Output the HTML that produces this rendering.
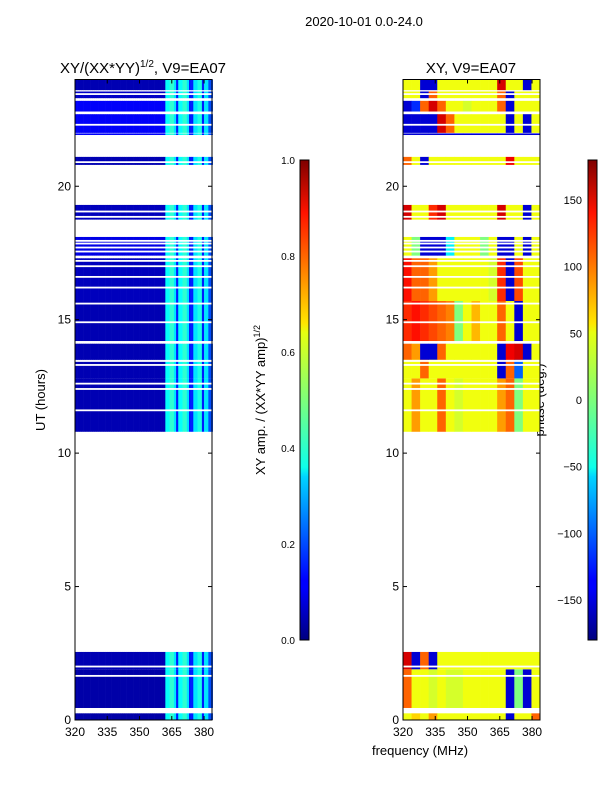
<!DOCTYPE html>
<html><head><meta charset="utf-8"><style>
body{margin:0;background:#fff;}
svg text{font-family:"Liberation Sans",sans-serif;fill:#000;}
</style></head><body>
<svg id="fig" width="600" height="800" xmlns="http://www.w3.org/2000/svg">
<defs>
<linearGradient id="jet" x1="0" y1="1" x2="0" y2="0">
<stop offset="0" stop-color="#00007f"/><stop offset="0.11" stop-color="#0000ff"/><stop offset="0.125" stop-color="#0000ff"/><stop offset="0.34" stop-color="#00d4ff"/><stop offset="0.36" stop-color="#0dffea"/><stop offset="0.5" stop-color="#7dff7a"/><stop offset="0.64" stop-color="#e6ff10"/><stop offset="0.66" stop-color="#ffe600"/><stop offset="0.89" stop-color="#ff1300"/><stop offset="1" stop-color="#7f0000"/>
</linearGradient>
</defs>
<text x="364" y="26" font-size="13" text-anchor="middle">2020-10-01 0.0-24.0</text>
<text x="143" y="73" font-size="15" text-anchor="middle">XY/(XX*YY)<tspan font-size="10" dy="-6">1/2</tspan><tspan dy="6">, V9=EA07</tspan></text>
<text x="471" y="73" font-size="15" text-anchor="middle">XY, V9=EA07</text>
<text x="420" y="755" font-size="13" text-anchor="middle">frequency (MHz)</text>
<text transform="translate(45,400) rotate(-90)" font-size="13" text-anchor="middle">UT (hours)</text>
<text transform="translate(265,400) rotate(-90)" font-size="13" text-anchor="middle">XY amp. / (XX*YY amp)<tspan font-size="9" dy="-5">1/2</tspan></text>
<text transform="translate(544,400) rotate(-90)" font-size="13" text-anchor="middle">phase (deg.)</text>
<g id="left"></g>
<g id="right"></g>
<g id="axes"></g>
<rect x="300" y="160" width="9" height="480" fill="url(#jet)" stroke="#000" stroke-width="1"/>
<rect x="588" y="160" width="9" height="480" fill="url(#jet)" stroke="#000" stroke-width="1"/>
</svg>
<script>
const freqTicks=[320,335,350,365,380];
const hourTicks=[0,5,10,15,20];
const ampTicks=[0.0,0.2,0.4,0.6,0.8,1.0];
const phaseTicks=[-150,-100,-50,0,50,100,150];
const segStart=[0.0,0.45,1.9,10.8,12.8,13.5,14.2,15.7,17.4,18.75,20.8,21.92,22.0,22.8,23.3,23.6];
const segEnd=[0.25,1.9,2.55,12.8,13.5,14.1,15.7,17.3,18.1,19.3,21.1,21.98,22.7,23.2,23.55,24.0];
const segAmpBg=[0.04,0.04,0.05,0.05,0.05,0.05,0.05,0.06,0.1,0.06,0.05,0.12,0.12,0.12,0.07,0.05];
const segPhase=[
[40,60,40,80,40,40,40,40,40,40,40,40,-150,40,40,100],
[100,40,40,30,40,30,30,40,40,40,40,40,-150,0,-150,40],
[150,-150,100,-150,40,40,40,40,40,40,40,40,40,40,40,40],
[40,80,40,40,100,40,30,40,40,40,40,80,100,0,40,40],
[40,40,100,40,40,40,40,40,40,40,40,-150,100,-100,40,40],
[100,80,-150,-150,100,40,40,40,40,40,40,-150,140,150,-150,40],
[120,130,120,110,100,90,0,40,70,40,40,100,40,-150,40,40],
[130,100,100,80,40,40,40,40,40,40,30,120,-150,110,40,40],
[40,0,-150,-150,-150,-50,40,40,40,0,40,-150,-150,40,-150,40],
[150,40,40,120,150,40,40,40,40,40,40,150,40,40,-150,40],
[100,40,-150,40,40,40,40,40,40,40,40,40,140,40,40,40],
[-150,-150,-150,-150,-150,-150,-150,-150,-150,-150,-150,-150,-150,-150,-150,-150],
[-150,-150,-150,-150,150,100,40,40,40,40,40,40,-150,40,-150,40],
[-150,-120,100,150,100,40,40,30,40,40,40,100,-150,40,40,40],
[40,40,-150,100,40,40,40,40,40,40,40,100,-150,40,40,40],
[40,40,-150,-150,40,40,40,40,40,40,40,150,40,40,-150,40]];
const bandFreq=[362,364,366,367,368,370,372,373,375,377,379,380,382];
const bandAmp=[0.38,0.42,0.35,0.15,0.38,0.42,0.35,0.15,0.35,0.4,0.15,0.35,0.2];
const whiteLines=[1.65,2.0,11.6,12.4,12.6,13.3,13.45,14.15,14.9,15.6,16.2,16.6,17.0,17.2,17.55,17.7,17.85,17.95,18.85,19.05,20.9,22.3,23.45];
const NS="http://www.w3.org/2000/svg";
const fMin=320,fMax=383.7,tMin=0,tMax=24;
const L={x0:75,x1:212},R={x0:403,x1:540},Y0=720,Y1=79.5;
function xs(p,f){return p.x0+(f-fMin)/(fMax-fMin)*(p.x1-p.x0);}
function ys(t){return Y0-(t-tMin)/(tMax-tMin)*(Y0-Y1);}
function jet(v){v=Math.max(0,Math.min(1,v));
 const c=x=>Math.round(255*Math.max(0,Math.min(1,x)));
 return `rgb(${c(1.5-Math.abs(4*v-3))},${c(1.5-Math.abs(4*v-2))},${c(1.5-Math.abs(4*v-1))})`;}
function mk(tag,attrs,parent){const e=document.createElementNS(NS,tag);for(const k in attrs)e.setAttribute(k,attrs[k]);parent.appendChild(e);return e;}
const gl=document.getElementById('left'),gr=document.getElementById('right'),ga=document.getElementById('axes');
function ampAt(s,f){if(f<bandFreq[0])return segAmpBg[s];let a=bandAmp[0];for(let i=0;i<bandFreq.length;i++)if(f>=bandFreq[i])a=bandAmp[i];return a;}
for(let s=0;s<segStart.length;s++){
 const y=ys(segEnd[s]),h=ys(segStart[s])-y;
 for(let f=fMin;f<fMax;f+=1){
  const r=mk('rect',{x:xs(L,f),y:y,width:xs(L,f+1)-xs(L,f)+0.3,height:h,fill:jet(ampAt(s,f))},gl);
  
  
 }
 const ph=segPhase[s],w=(fMax-fMin)/ph.length;
 for(let i=0;i<ph.length;i++){
  const r=mk('rect',{x:xs(R,fMin+i*w),y:y,width:xs(R,fMin+(i+1)*w)-xs(R,fMin+i*w)+0.3,height:h,fill:jet((ph[i]+180)/360)},gr);
  
  
 }
}
for(const p of [L,R])for(const t of whiteLines){
 const r=mk('rect',{x:p.x0,y:ys(t)-1,width:p.x1-p.x0,height:1.8,fill:'#fff'},ga);
 
 
}
for(const [p,nm] of [[L,'left'],[R,'right']]){
 const fr=mk('rect',{x:p.x0,y:Y1,width:p.x1-p.x0,height:Y0-Y1,fill:'none',stroke:'#000','stroke-width':1},ga);
 
 
 for(const f of freqTicks){const x=xs(p,f);
  mk('line',{x1:x,x2:x,y1:Y0,y2:Y0-4,stroke:'#000'},ga);mk('line',{x1:x,x2:x,y1:Y1,y2:Y1+4,stroke:'#000'},ga);
  const t=mk('text',{x:x,y:Y0+16,'font-size':12,'text-anchor':'middle'},ga);t.textContent=f;
  
  }
 for(const h of hourTicks){const y=ys(h);
  mk('line',{x1:p.x0,x2:p.x0+4,y1:y,y2:y,stroke:'#000'},ga);mk('line',{x1:p.x1,x2:p.x1-4,y1:y,y2:y,stroke:'#000'},ga);
  const t=mk('text',{x:p.x0-4,y:y+4,'font-size':12,'text-anchor':'end'},ga);t.textContent=h;
  
  }
}
for(const v of ampTicks){const y=640-v*480;
 const t=mk('text',{x:295,y:y+4,'font-size':10,'text-anchor':'end'},ga);t.textContent=v.toFixed(1);
 
 }
for(const v of phaseTicks){const y=640-(v+180)/360*480;
 const t=mk('text',{x:582,y:y+4,'font-size':11,'text-anchor':'end'},ga);t.textContent=v<0?'\u2212'+(-v):v;
 
 }
</script>
</body></html>
